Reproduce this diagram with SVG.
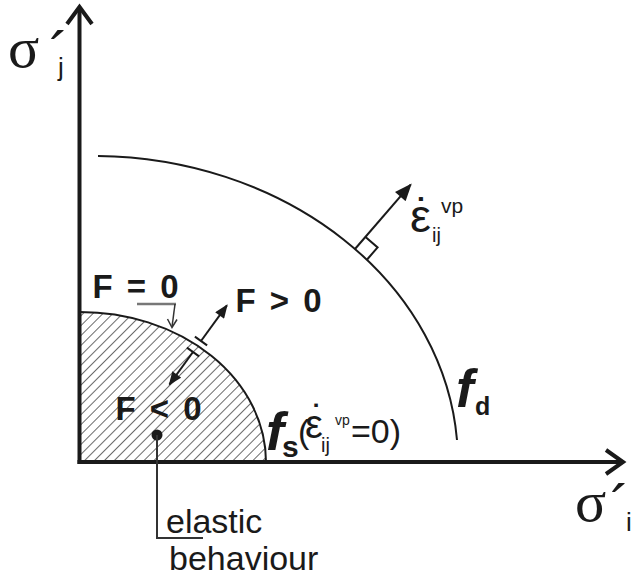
<svg xmlns="http://www.w3.org/2000/svg" width="632" height="577" viewBox="0 0 632 577">
<style>
.ln{fill:none;stroke:#1a1a1a;stroke-width:2}
.ax{fill:none;stroke:#1a1a1a;stroke-width:4}
.sans{font-family:"Liberation Sans",Arial,sans-serif;fill:#1a1a1a}
.serif{font-family:"Liberation Serif","Times New Roman",serif;fill:#1a1a1a}
.bf{font-family:"Liberation Sans",Arial,sans-serif;font-weight:bold;fill:#1a1a1a;font-size:33px;word-spacing:5px}
.fi{font-family:"Liberation Sans",Arial,sans-serif;font-weight:bold;font-style:italic;fill:#1a1a1a}
</style>
<defs>
<marker id="tri" viewBox="0 0 10 8" refX="9" refY="4" markerWidth="15" markerHeight="11" orient="auto" markerUnits="userSpaceOnUse">
<path d="M0,0 L10,4 L0,8 Z" fill="#1a1a1a"/>
</marker>
<marker id="triL" viewBox="0 0 10 8" refX="9" refY="4" markerWidth="19" markerHeight="14" orient="auto" markerUnits="userSpaceOnUse">
<path d="M0,0 L10,4 L0,8 Z" fill="#1a1a1a"/>
</marker>
<pattern id="hatch" patternUnits="userSpaceOnUse" width="7" height="10" patternTransform="rotate(45)">
<line x1="0" y1="0" x2="0" y2="10" stroke="#2a2a2a" stroke-width="1.4"/>
</pattern>
</defs>

<g id="fs-region">
<path d="M79.5,462 L79.5,312 A186,150 0 0 1 266,462 Z" fill="url(#hatch)"/>
<path class="ln" d="M79.5,312 A186,150 0 0 1 266,462"/>
</g>

<g id="fd-surface">
<path class="ln" d="M98,156 A365,306 0 0 1 457,440"/>
</g>

<g id="axes">
<line class="ax" x1="79.5" y1="464" x2="79.5" y2="7"/>
<polyline class="ax" points="67,24 79.5,7 92,24"/>
<line class="ax" x1="77.5" y1="462" x2="623" y2="462"/>
<polyline class="ax" points="606,450 623,462 606,474"/>
</g>

<g id="connectors">
<line class="ln" x1="355" y1="249" x2="410.6" y2="184.7" marker-end="url(#triL)"/>
<polyline class="ln" points="365.5,236.9 377.6,247.4 367.1,259.5"/>
<line class="ln" x1="194.9" y1="336.6" x2="207.1" y2="345.4"/>
<line class="ln" x1="201" y1="341" x2="226.9" y2="305.4" marker-end="url(#tri)"/>
<line class="ln" x1="186.9" y1="347.6" x2="199.1" y2="356.4"/>
<line class="ln" x1="193" y1="352" x2="169.5" y2="384.4" marker-end="url(#tri)"/>
<line x1="137" y1="304" x2="176" y2="304" stroke="#777" stroke-width="2.5"/>
<polyline fill="none" stroke="#333" stroke-width="1.5" points="175,304 172,327"/>
<polyline fill="none" stroke="#333" stroke-width="1.5" points="167.5,319 172,327.5 177,319.5"/>
<circle cx="157" cy="435" r="5.5" fill="#1a1a1a"/>
<polyline fill="none" stroke="#333" stroke-width="2" points="157,435 157,538 203,538"/>
</g>

<g id="axis-labels">
<text class="serif" x="8" y="67" font-size="58">σ</text>
<text class="sans" x="49" y="74" font-size="60">´</text>
<text class="sans" x="58" y="76" font-size="26">j</text>
<text class="serif" x="575" y="521" font-size="58">σ</text>
<text class="sans" x="610" y="527" font-size="60">´</text>
<text class="sans" x="626" y="531" font-size="26">i</text>
</g>

<g id="strain-rate-label">
<text class="sans" x="410" y="232" font-size="47">ε</text>
<text class="sans" x="423" y="231" font-size="47" text-anchor="middle">˙</text>
<text class="sans" x="432" y="242" font-size="20">ij</text>
<text class="sans" x="441" y="213" font-size="21">vp</text>
</g>

<g id="F-labels">
<text class="bf" x="92.5" y="298">F = 0</text>
<text class="bf" x="235.5" y="312">F &gt; 0</text>
<text class="bf" x="115.5" y="420">F &lt; 0</text>
</g>

<g id="fd-label">
<text class="fi" x="456" y="407" font-size="53">f</text>
<text class="sans" x="475" y="415" font-size="25" font-weight="bold">d</text>
</g>

<g id="fs-label">
<text class="fi" x="266" y="450" font-size="54">f</text>
<text class="sans" x="282" y="457" font-size="30" font-weight="bold">s</text>
<text class="sans" x="298" y="443" font-size="34">(</text>
<text class="sans" x="305" y="438" font-size="40">ε</text>
<text class="sans" x="318" y="433" font-size="40" text-anchor="middle">˙</text>
<text class="sans" x="321" y="452" font-size="20">ij</text>
<text class="sans" x="335" y="425" font-size="14">vp</text>
<text class="sans" x="351" y="443" font-size="34">=0)</text>
</g>

<g id="elastic-label">
<text class="sans" x="166" y="533" font-size="34">elastic</text>
<text class="sans" x="169" y="570" font-size="34">behaviour</text>
</g>
</svg>
